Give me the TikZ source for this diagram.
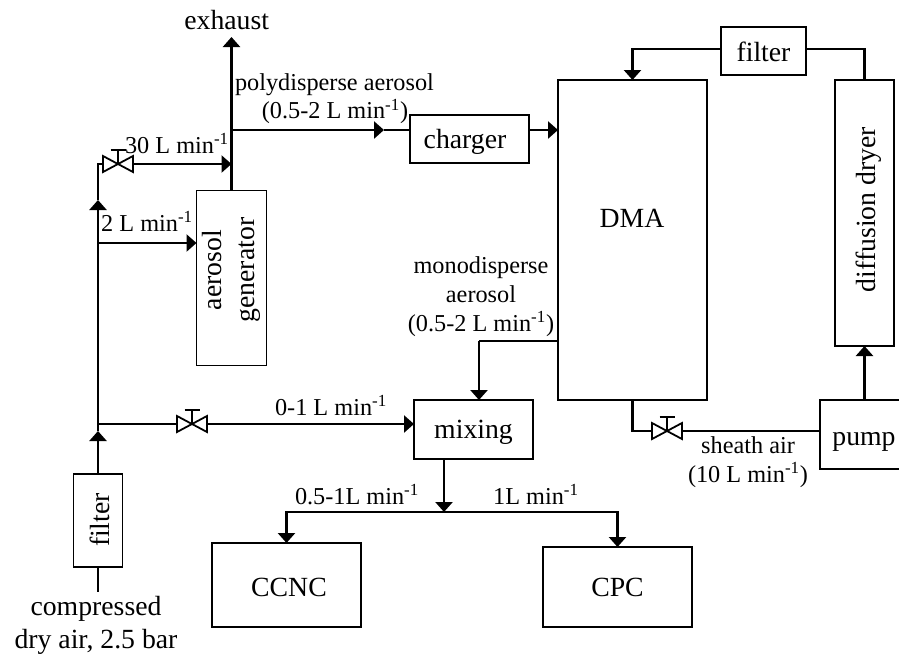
\documentclass[tikz,border=0pt]{standalone}
\usepackage{fontspec}
\setmainfont{Liberation Serif}
\usetikzlibrary{arrows.meta,positioning}
\newcommand{\boxfont}{\fontsize{20.8}{24.75}\selectfont}
\newcommand{\flowfont}{\fontsize{18.2}{21.75}\selectfont}
\newcommand{\permin}{L min\textsuperscript{-1}}
\begin{document}
\begin{tikzpicture}[
  x=0.75pt, y=-0.75pt,
  box/.style={draw, line width=1.4pt, inner sep=0pt, outer sep=0pt, align=center, font=\boxfont, text depth=0pt},
  txt/.style={anchor=base, inner sep=0pt, align=center, font=\flowfont},
  bigtxt/.style={txt, font=\boxfont},
  pipe/.style={line width=2pt},
  flow/.style={pipe, -{Triangle[length=7.5pt, width=12.75pt]}},
  valve/.style={minimum width=22.5pt, minimum height=12pt, inner sep=0pt, outer sep=0pt}]
\useasboundingbox (0,0) rectangle (899,654);
\node[box, minimum width=111.75pt, minimum height=240pt] (dma) at (632.5,240) {};
\node[box, below left=26.25pt and 21.75pt of dma.north west, minimum width=89.25pt, minimum height=36pt, text height=13.5pt] (charger) {\kern-6.75pt charger};
\node[box, above right=3.75pt and 10.5pt of dma.north east, minimum width=63.75pt, minimum height=36pt, text height=15pt] (topfilter) {filter};
\node[box, below right=0pt and 96pt of dma.north east, minimum width=44.25pt, minimum height=199.5pt] (dryer) {};
\node[box, below right=0pt and 84.75pt of dma.south east, minimum width=66pt, minimum height=51.75pt, text height=15.75pt] (pump) {pump};
\node[box, below left=0pt and 18.75pt of dma.south west, minimum width=89.25pt, minimum height=44.25pt, text height=12.75pt] (mix) {mixing};
\node[box, below left=63pt and 39.75pt of mix.south west, minimum width=111.75pt, minimum height=63pt, text height=16.5pt] (ccnc) {\kern3.75pt CCNC};
\node[box, below right=66pt and 7.5pt of mix.south east, minimum width=111.75pt, minimum height=60pt, text height=13.5pt] (cpc) {CPC};
\node[box, minimum width=52.5pt, minimum height=131.25pt] (gen) at (231.5,278) {};
\node[box, minimum width=36.75pt, minimum height=69.75pt] (infilter) at (98,520.5) {};
\node[valve] (vair) at (118,164) {};
\node[valve] (vdil) at (192,424) {};
\node[valve] (vsheath) at (667,431) {};
\foreach \v in {vair,vdil,vsheath} {
  \draw[line width=1.35pt] (\v.north west) -- (\v.south west) -- (\v.north east) -- (\v.south east) -- cycle;
  \draw[line width=1.35pt] (\v.center) -- ++(0,-14) ++(-7.5,0) -- ++(15,0);
}
\coordinate (cin) at (98,592);
\coordinate (cdil) at (98,424);
\coordinate (cdiltip) at (98,431);
\coordinate (cgen) at (98,243);
\coordinate (cgentip) at (98,200);
\coordinate (cout) at (231.5,164);
\coordinate (cpoly) at (231.5,130);
\coordinate (cexh) at (231.5,37);
\coordinate (cpolytip) at (384,130);
\coordinate (cloop) at (764,49);
\coordinate (cmono) at (479,341);
\coordinate (csplit) at (444,512);
\draw[pipe] (infilter.south) -- (cin);
\draw[flow] (infilter.north) -- (cdiltip);
\draw[pipe] (cdiltip) -- (cdil);
\draw[flow] (cdil) -- (cgentip);
\draw[pipe] (cgentip) |- (vair.west);
\draw[pipe] (cdil) -- (vdil.west);
\draw[flow] (vdil.east) -- (mix.west |- vdil);
\draw[flow] (cgen) -- (gen.west |- cgen);
\draw[flow] (vair.east) -- (cout);
\draw[flow] (gen.north) -- (cexh);
\draw[flow] (cpoly) -- (cpolytip);
\draw[pipe] (cpolytip) -- (charger.west |- cpoly);
\draw[flow] (charger.east |- cpoly) -- (dma.west |- cpoly);
\draw[pipe] (dryer.north) |- (topfilter.east |- cloop);
\draw[flow] (topfilter.west |- cloop) -| (dma.north);
\draw[flow] (dryer.south |- pump.north) -- (dryer.south);
\draw[pipe] (vsheath.east) -- (pump.west |- vsheath);
\draw[pipe] (dma.south) |- (vsheath.west);
\draw[pipe] (dma.west |- cmono) -- (cmono);
\draw[flow] (cmono) -- (cmono |- mix.north);
\draw[flow] (mix.south -| csplit) -- (csplit);
\draw[flow] (csplit) -| (ccnc.north);
\draw[flow] (csplit) -| (cpc.north);
\node[bigtxt] (dmatxt) at (632,227) {DMA};
\node[bigtxt, rotate=90] (dryertxt) at (875,209.5) {diffusion dryer};
\node[bigtxt, rotate=90] (infiltertxt) at (109,520) {filter};
\node[font=\boxfont, rotate=90, inner sep=0pt, align=center] (gentxt) at (231,270) {aerosol\\generator};
\node[bigtxt] (exhausttxt) at (226.7,29) {exhaust};
\node[bigtxt] (intxt) at (96,615) {compressed};
\node[bigtxt] (intxtb) at (96,648) {dry air, 2.5 bar};
\node[txt] (polytxt) at (334.5,90) {polydisperse aerosol};
\node[txt] (polyflow) at (335,118.5) {(0.5-2 \permin)};
\node[txt] (airflow) at (177,153) {30 \permin};
\node[txt] (genflow) at (147,231) {2 \permin};
\node[txt] (dilflow) at (331,415) {0-1 \permin};
\node[txt] (ccncflow) at (357,504) {0.5-1L min\textsuperscript{-1}};
\node[txt] (cpcflow) at (536,504) {1L min\textsuperscript{-1}};
\node[txt] (monotxt) at (481,273) {monodisperse};
\node[txt] (monotxtb) at (481,302) {aerosol};
\node[txt] (monoflow) at (481,331) {(0.5-2 \permin)};
\node[txt] (sheathtxt) at (748,453) {sheath air};
\node[txt] (sheathflow) at (748,482) {(10 \permin)};
\end{tikzpicture}
\end{document}
